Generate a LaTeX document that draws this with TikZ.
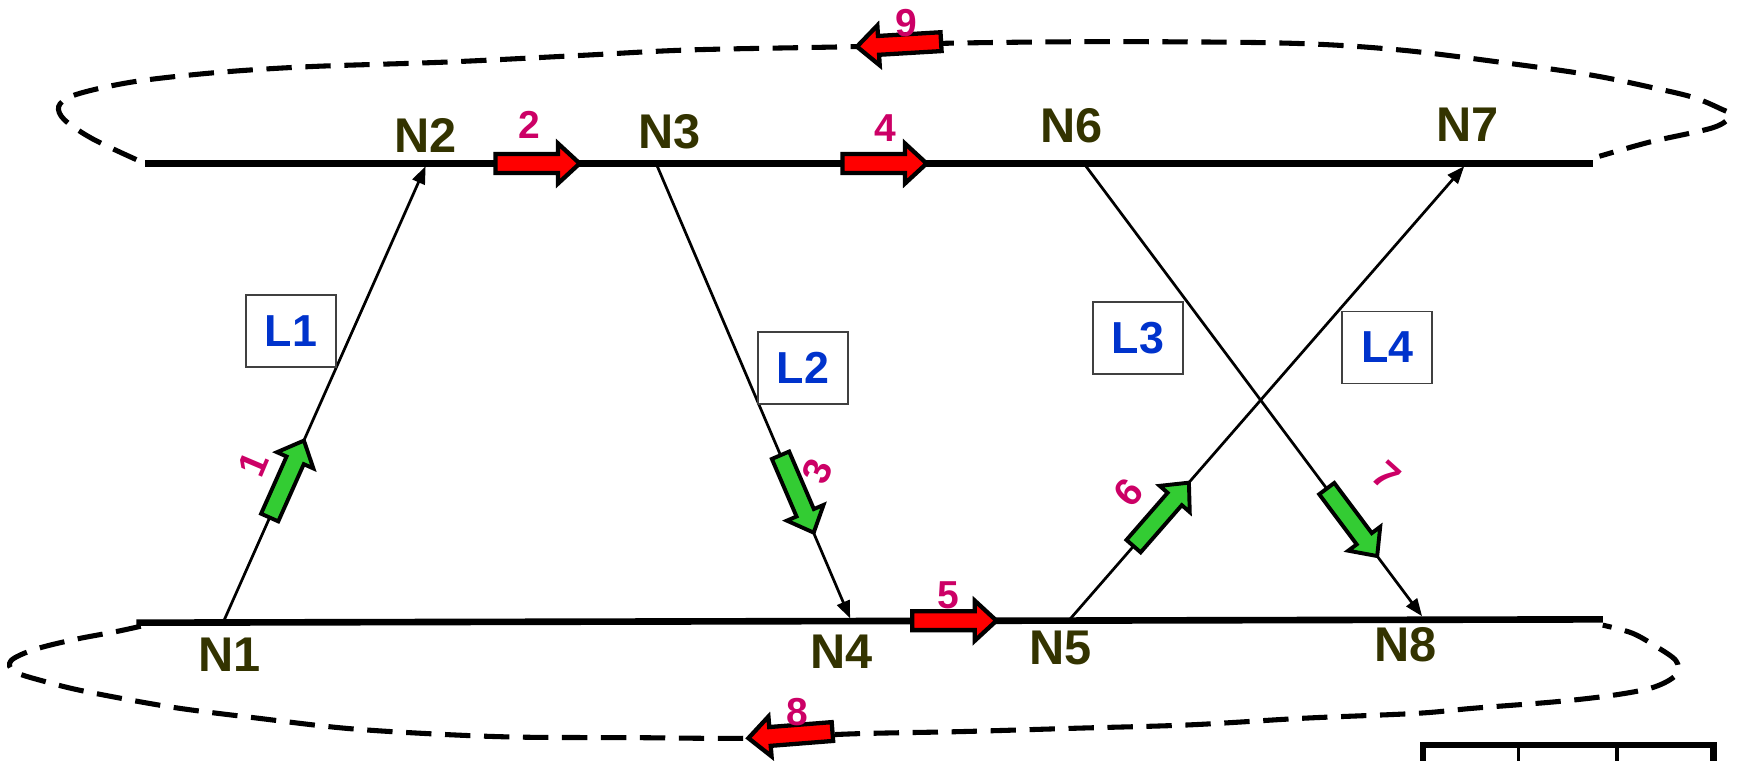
\documentclass[tikz,border=0pt]{standalone}
\usepackage{fontspec}
\setmainfont{Liberation Sans}
\usetikzlibrary{arrows.meta,calc}
\definecolor{nodecol}{HTML}{333300}
\definecolor{numcol}{HTML}{CC0066}
\definecolor{lcol}{HTML}{0033CC}
\definecolor{redfill}{HTML}{FF0000}
\definecolor{greenfill}{HTML}{33CC33}
\tikzset{
  nlabel/.style={text=nodecol, font=\fontsize{12.5}{15}\selectfont\bfseries, inner sep=0pt},
  numlabel/.style={text=numcol, font=\fontsize{10}{12}\selectfont\bfseries, inner sep=0pt},
  lbox/.style={draw=black!75, line width=0.45pt, fill=white, minimum width=0.81cm, minimum height=0.65cm, inner sep=0pt, text=lcol, font=\fontsize{11.5}{13}\selectfont\bfseries},
  track/.style={line width=1.7pt},
  loopline/.style={line width=1.3pt, dash pattern=on 6.5pt off 3.5pt},
  conn/.style={line width=0.7pt, -{Triangle[length=4.5pt,width=3.4pt]}},
  blockred/.style={draw=black, line width=1.1pt, fill=redfill, line join=miter},
  blockgreen/.style={draw=black, line width=1pt, fill=greenfill, line join=miter},
  pics/blk/.style={code={\path[pic actions] (0,-8.5) -- (56.5,-8.5) -- (56.5,-18) -- (76,0) -- (56.5,18) -- (56.5,8.5) -- (0,8.5) -- cycle;}},
  tablebar/.style={line width=1.6pt, line join=miter},
  tablesep/.style={line width=0.9pt}
}
\begin{document}
\begin{tikzpicture}[x=0.01cm,y=-0.01cm]
\useasboundingbox (0,0) rectangle (1568,686);

% dashed loops
\draw[loopline] plot[smooth, tension=0.55] coordinates {(123,144) (83,125) (58,108) (53,96) (64,87) (93,79) (133,72) (201,65) (282,60) (403,56) (524,50) (624,45) (774,42) (856,39) (1000,37.6) (1163,39) (1262,45) (1360,57) (1437,68) (1495,80) (1528,88) (1552,98) (1561,104) (1546,115) (1489,128) (1443,141)};
\draw[loopline] plot[smooth, tension=0.55] coordinates {(127,565) (104,570) (67,577) (31,586) (10,596) (13,606) (41,615) (78,624) (155,638) (233,648) (311,657) (388,662) (466,665) (570,665.5) (676,666) (772,662) (869,660) (971,657) (1073,654) (1176,648) (1278,643.6) (1329,639) (1405,633) (1457,627) (1492,620) (1512,609) (1512,596) (1492,582) (1472,571) (1446,564)};

% tracks
\coordinate (topL) at (131,147.5);
\coordinate (topR) at (1437,147.5);
\coordinate (botL) at (123,561.8);
\coordinate (botR) at (1446,558.8);
\draw[track] (topL) -- (topR);
\draw[track] (botL) -- (botR);

% node points
\coordinate (n1) at (202,560);
\coordinate (n2) at (384,150);
\coordinate (n3) at (593,150);
\coordinate (n4) at (767,558);
\coordinate (n5) at (965,559);
\coordinate (n6) at (979,149);
\coordinate (n7) at (1321,150);
\coordinate (n8) at (1283,556);

% links
\draw[conn] (n1) -- (n2);
\draw[conn] (n3) -- (n4);
\draw[conn] (n6) -- (n8);
\draw[conn] (n5) -- (n7);

% link boxes
\node[lbox] (L1) at (262.5,298.5) {L1};
\node[lbox] (L2) at (724.5,332) {L2};
\node[lbox] (L3) at (1026.5,305) {L3};
\node[lbox] (L4) at (1251.5,313.5) {L4};

% node labels
\node[nlabel] (N1) at (207,591) {N1};
\node[nlabel] (N2) at (384,122) {N2};
\node[nlabel] (N3) at (604,119) {N3};
\node[nlabel] (N4) at (759,588) {N4};
\node[nlabel] (N5) at (957,585) {N5};
\node[nlabel] (N6) at (967,113) {N6};
\node[nlabel] (N7) at (1324,113) {N7};
\node[nlabel] (N8) at (1268,582) {N8};

% red block arrows
\pic[blockred] at (447,147.5) {blk};
\pic[blockred] at (760,147.5) {blk};
\pic[blockred] at (823,560) {blk};
\pic[blockred, rotate=183.4] at (849,37.6) {blk};
\pic[blockred, rotate=184.5] at (751,660) {blk};

% green block arrows
\pic[blockgreen, rotate=66] at ($(n1)!0.227!(n2)$) {blk};
\pic[blockgreen, rotate=-66.8] at ($(n3)!0.639!(n4)$) {blk};
\pic[blockgreen, rotate=48.9] at ($(n5)!0.162!(n7)$) {blk};
\pic[blockgreen, rotate=-53.2] at ($(n6)!0.717!(n8)$) {blk};

% step numbers
\node[numlabel] (s2) at (478,113) {2};
\node[numlabel] (s4) at (799,116) {4};
\node[numlabel] (s5) at (856,537) {5};
\node[numlabel] (s9) at (818,21) {9};
\node[numlabel] (s8) at (719,642) {8};
\node[numlabel, rotate=67] (s1) at (229,419) {1};
\node[numlabel, rotate=67] (s3) at (737.5,425) {3};
\node[numlabel, rotate=49] (s6) at (1018,444) {6};
\node[numlabel, rotate=-42] (s7) at (1251,429) {7};

% table fragment
\draw[tablebar] (1284,690) -- (1284,672) -- (1546,672) -- (1546,690);
\draw[tablesep] (1370,672) -- (1370,690);
\draw[tablesep] (1459,672) -- (1459,690);
\end{tikzpicture}
\end{document}
